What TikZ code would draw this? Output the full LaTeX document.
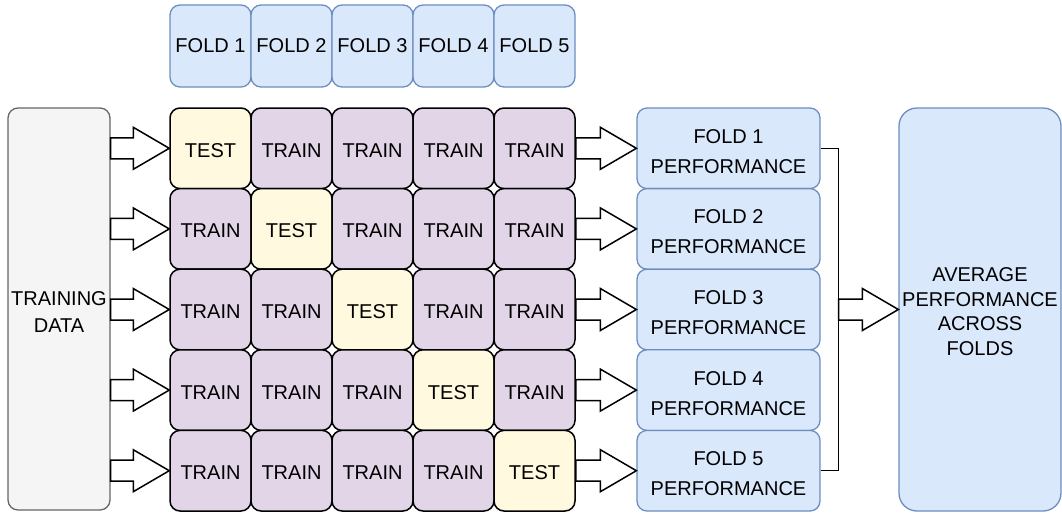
\documentclass[tikz,border=0pt]{standalone}
\usepackage{fontspec}
\setmainfont{Liberation Sans}
\usetikzlibrary{calc}

\definecolor{bluefill}{HTML}{DAE8FC}
\definecolor{bluedraw}{HTML}{6C8EBF}
\definecolor{purplefill}{HTML}{E1D5E7}
\definecolor{yellowfill}{HTML}{FFF9E0}
\definecolor{greyfill}{HTML}{F5F5F5}
\definecolor{greydraw}{HTML}{666666}

\tikzset{
  box/.style={rectangle, rounded corners=10pt, inner sep=0pt, align=center,
    font=\fontsize{20}{24}\selectfont},
  bluebox/.style={box, fill=bluefill, draw=bluedraw, line width=1.3pt},
  traincell/.style={box, fill=purplefill, draw=black, line width=1.5pt,
    minimum width=81pt, minimum height=80.6pt, text height=18pt, text depth=0pt},
  testcell/.style={traincell, fill=yellowfill},
  barrow/.style={draw=black, fill=white, line width=1.5pt, line join=miter},
}

% hollow block arrow from point #1 to point #2 (horizontal)
\newcommand{\blockarrow}[2]{%
  \path[barrow] let \p1=(#1), \p2=(#2) in
    (\x1,\y1+10.5) -- (\x2-36,\y1+10.5) -- (\x2-36,\y1+21) -- (\x2,\y1)
    -- (\x2-36,\y1-21) -- (\x2-36,\y1-10.5) -- (\x1,\y1-10.5) -- cycle;}
% taller first line pushes a multi-line label down a little
\newcommand{\lowerby}[1]{\rule{0pt}{#1}}

\begin{document}
\begin{tikzpicture}[x=1pt, y=-1pt]
\useasboundingbox (0,0) rectangle (1062,512);

% fold headers
\foreach \c in {1,...,5}
  \node[bluebox, minimum width=81pt, minimum height=82pt] (f\c)
    at ({129.5+81*\c}, 46) {FOLD \c};

% input data
\node[box, fill=greyfill, draw=greydraw, line width=1.3pt,
  minimum width=102pt, minimum height=402pt,
  font=\fontsize{20}{27}\selectfont] (data) at (59, 309)
  {\lowerby{20pt}TRAINING\\DATA};

% averaged result
\node[bluebox, rounded corners=18pt, minimum width=162pt, minimum height=403pt,
  font=\fontsize{20}{24.5}\selectfont] (avg) at (980, 309.5)
  {\lowerby{18pt}AVERAGE\\PERFORMANCE\\ACROSS\\FOLDS};

% fold grid, per-fold results and arrows
\foreach \r in {1,...,5} {
  \foreach \c in {1,...,5} {
    \ifnum\r=\c \def\kind{testcell}\def\txt{TEST}%
    \else \def\kind{traincell}\def\txt{TRAIN}\fi
    \node[\kind] (c\r\c) at ({129.5+81*\c}, {67.7+80.6*\r}) {\txt};
  }
  \node[bluebox, minimum width=183pt, minimum height=80.6pt,
    font=\fontsize{20}{30}\selectfont] (p\r)
    at (728.5, {67.7+80.6*\r}) {\lowerby{20pt}FOLD \r\\PERFORMANCE};
  \blockarrow{data.east |- c\r1.west}{c\r1.west}
  \blockarrow{c\r5.east}{p\r.west}
}

% bracket collecting the fold results
\draw[line width=1.5pt, line join=miter] (p1.east) -- ++(18,0) |- (p5.east);
\coordinate (join) at ($(p1.east)+(18,0)$);
\blockarrow{join |- p3.east}{avg.west |- p3.east}

\end{tikzpicture}
\end{document}
